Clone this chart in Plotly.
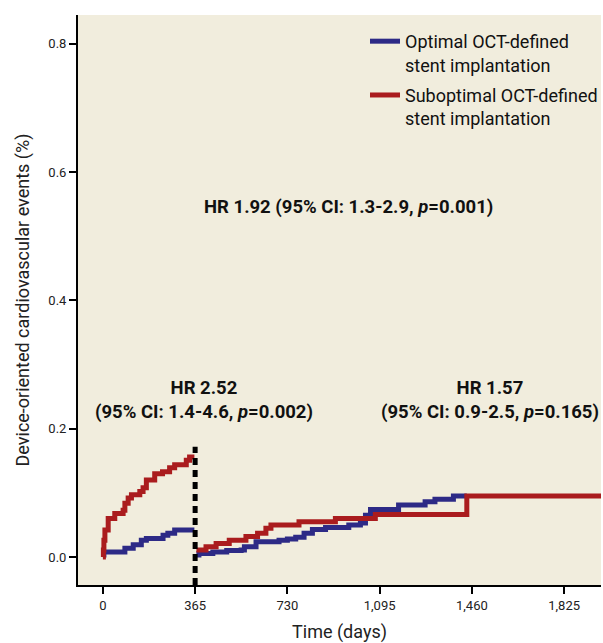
import plotly.graph_objects as go

# ---- data ----
red_y1_days = [0, 2, 4, 8, 21, 47, 80, 87, 100, 113, 146, 159, 172, 205, 236, 264, 284, 330, 343, 362]
red_y1_vals = [0, 0.011, 0.026, 0.042, 0.060, 0.068, 0.073, 0.084, 0.092, 0.097, 0.102, 0.108, 0.120, 0.130, 0.133, 0.139, 0.144, 0.151, 0.156, 0.156]
blue_y1_days = [0, 4, 87, 120, 152, 172, 238, 257, 284, 362]
blue_y1_vals = [0.003, 0.008, 0.0135, 0.019, 0.026, 0.029, 0.034, 0.037, 0.042, 0.042]
red_y2_days = [370, 408, 448, 500, 566, 612, 645, 665, 776, 920, 1078, 1440, 2000]
red_y2_vals = [0.011, 0.016, 0.021, 0.026, 0.032, 0.037, 0.045, 0.050, 0.055, 0.060, 0.0665, 0.095, 0.095]
blue_y2_days = [370, 380, 435, 490, 547, 560, 606, 697, 730, 763, 796, 829, 881, 973, 1019, 1039, 1059, 1170, 1275, 1314, 1387, 1440]
blue_y2_vals = [0.003, 0.0055, 0.008, 0.010, 0.011, 0.016, 0.024, 0.026, 0.028, 0.031, 0.037, 0.043, 0.046, 0.050, 0.053, 0.065, 0.074, 0.081, 0.086, 0.090, 0.095, 0.095]
landmark_day = 365
landmark_top = 0.172
x_ticks = [0, 365, 730, 1095, 1460, 1825]
x_tick_labels = ["0", "365", "730", "1,095", "1,460", "1,825"]
y_ticks = [0.0, 0.2, 0.4, 0.6, 0.8]
y_tick_labels = ["0.0", "0.2", "0.4", "0.6", "0.8"]
series_names = ["Optimal OCT-defined<br>stent implantation", "Suboptimal OCT-defined<br>stent implantation"]

BLUE = "#2d2a86"
RED = "#aa1c1e"
FONT = "Roboto, Liberation Sans, sans-serif"
XR = [-98.5, 1971]
YR = [-0.0436, 0.845]

fig = go.Figure()
fig.add_trace(go.Scatter(
    x=blue_y1_days + [None] + blue_y2_days,
    y=blue_y1_vals + [None] + blue_y2_vals,
    mode="lines", line=dict(color=BLUE, width=5, shape="hv"),
    name=series_names[0], legendgroup="opt", connectgaps=False))
fig.add_trace(go.Scatter(
    x=red_y1_days + [None] + red_y2_days,
    y=red_y1_vals + [None] + red_y2_vals,
    mode="lines", line=dict(color=RED, width=5, shape="hv"),
    name=series_names[1], legendgroup="sub", connectgaps=False))
fig.add_trace(go.Scatter(
    x=[landmark_day, landmark_day], y=[YR[0], landmark_top],
    mode="lines", line=dict(color="black", width=5, dash="7px,5px"),
    showlegend=False, hoverinfo="skip"))

ann_font = dict(family=FONT, size=18.5, color="#111")
fig.add_annotation(x=973, y=0.546, xref="x", yref="y",
                   text="<b>HR 1.92 (95% CI: 1.3-2.9, <i>p</i>=0.001)</b>", showarrow=False, font=ann_font)
fig.add_annotation(x=402, y=0.245, xref="x", yref="y",
                   text="<b>HR 2.52<br>(95% CI: 1.4-4.6, <i>p</i>=0.002)</b>", showarrow=False, font=ann_font)
fig.add_annotation(x=1533, y=0.245, xref="x", yref="y",
                   text="<b>HR 1.57<br>(95% CI: 0.9-2.5, <i>p</i>=0.165)</b>", showarrow=False, font=ann_font)

fig.update_layout(
    width=603, height=643,
    margin=dict(l=78, r=0, t=15, b=58),
    paper_bgcolor="white", plot_bgcolor="#f1eddd",
    font=dict(family=FONT, size=13, color="#222"),
    legend=dict(x=0.549, y=0.986, xanchor="left", yanchor="top",
                bgcolor="rgba(0,0,0,0)", font=dict(family=FONT, size=18, color="#111"),
                valign="top", traceorder="grouped", tracegroupgap=4),
    xaxis=dict(range=XR, tickvals=x_ticks, ticktext=x_tick_labels, showgrid=False, zeroline=False,
               showline=True, linecolor="black", linewidth=2, ticks="outside", ticklen=7,
               tickwidth=1.5, tickcolor="black",
               title=dict(text="Time (days)", font=dict(family=FONT, size=18, color="#222"), standoff=15)),
    yaxis=dict(range=YR, tickvals=y_ticks, ticktext=y_tick_labels, showgrid=False, zeroline=False,
               showline=True, linecolor="black", linewidth=2, ticks="outside", ticklen=7,
               tickwidth=1.5, tickcolor="black",
               title=dict(text="Device-oriented cardiovascular events (%)",
                          font=dict(family=FONT, size=18, color="#222"), standoff=14)),
)
fig.write_html("out.html", config={"displayModeBar": False},
               post_script="document.body.style.margin='0px';document.documentElement.style.overflow='hidden';")
